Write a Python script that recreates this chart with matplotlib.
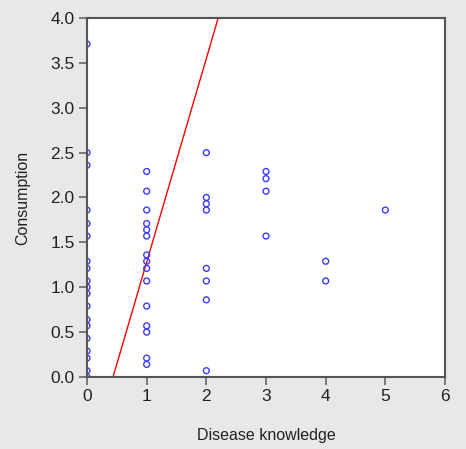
import matplotlib
matplotlib.use('Agg')
import matplotlib.pyplot as plt

plt.rcParams['font.family'] = ['Liberation Sans', 'DejaVu Sans']

# disease knowledge score (x) and consumption (y)
knowledge_0 = [3.71, 2.50, 2.36, 1.86, 1.71, 1.57, 1.29, 1.21, 1.07, 1.00, 0.93,
               0.79, 0.64, 0.57, 0.43, 0.29, 0.21, 0.07, 0.0]
knowledge_1 = [2.29, 2.07, 1.86, 1.71, 1.64, 1.57, 1.36, 1.29, 1.21, 1.07, 0.79,
               0.57, 0.50, 0.21, 0.14]
knowledge_2 = [2.50, 2.00, 1.93, 1.86, 1.21, 1.07, 0.86, 0.07]
knowledge_3 = [2.29, 2.21, 2.07, 1.57]
knowledge_4 = [1.29, 1.07]
knowledge_5 = [1.86]

groups = {0: knowledge_0, 1: knowledge_1, 2: knowledge_2,
          3: knowledge_3, 4: knowledge_4, 5: knowledge_5}

# fitted line y = intercept + slope * x
line_intercept = -0.99
line_slope = 2.27

x_ticks = [0, 1, 2, 3, 4, 5, 6]
y_ticks = [0.0, 0.5, 1.0, 1.5, 2.0, 2.5, 3.0, 3.5, 4.0]

fig = plt.figure(figsize=(4.66, 4.49), dpi=100, facecolor='#e8e8e8')
ax = fig.add_axes([0.1867, 0.1604, 0.7683, 0.7995])
ax.set_facecolor('white')

xs, ys = [], []
for k, vals in groups.items():
    xs += [k] * len(vals)
    ys += vals
ax.scatter(xs, ys, s=18, facecolors='none', edgecolors='#3b3bff', linewidths=1.0, zorder=3)

lx = [0, 6]
ax.plot(lx, [line_intercept + line_slope * v for v in lx], color='red', lw=1.0, zorder=2)

ax.set_xlim(0, 6)
ax.set_ylim(0, 4)
ax.set_xticks(x_ticks)
ax.set_yticks(y_ticks)
ax.set_yticklabels([f'{v:.1f}' for v in y_ticks])
ax.tick_params(direction='out', length=6, width=1.3, color='#707070',
               labelsize=12.5, labelcolor='#222222', pad=3)

for sp in ax.spines.values():
    sp.set_color('#555555')
    sp.set_linewidth(1.5)
    sp.set_zorder(4)

ax.set_xlabel('Disease knowledge', fontsize=11.5, color='#222222', labelpad=17)
ax.set_ylabel('Consumption', fontsize=11.5, color='#222222', labelpad=14)

fig.savefig('out.png', dpi=100, facecolor=fig.get_facecolor())
